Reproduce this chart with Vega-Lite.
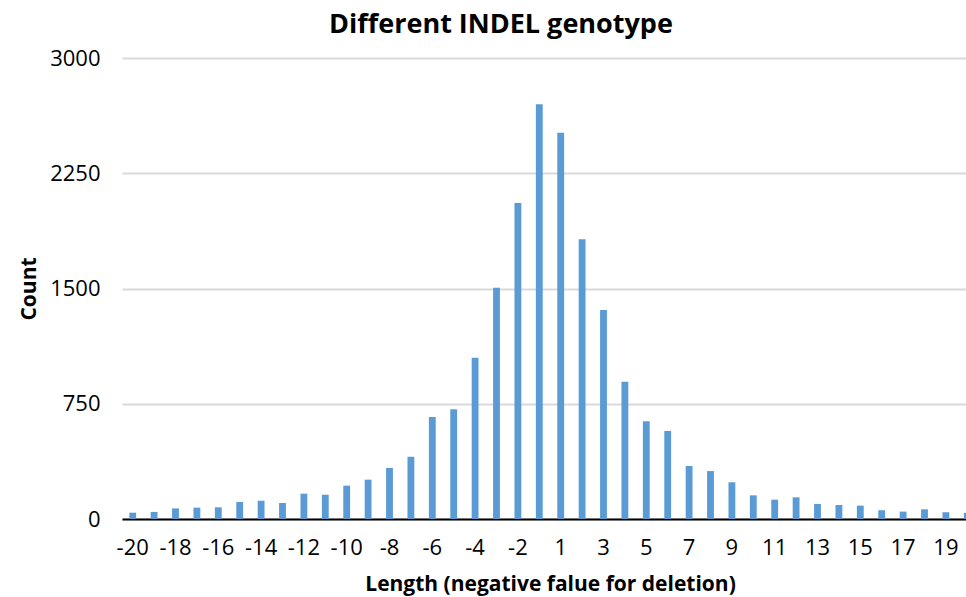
{
  "$schema": "https://vega.github.io/schema/vega-lite/v6.json",
  "autosize": "none",
  "width": 844,
  "height": 461,
  "padding": {"left": 122, "top": 58, "right": 0, "bottom": 78},
  "background": "#ffffff",
  "config": {
    "view": {"stroke": null},
    "font": "Open Sans"
  },
  "title": {
    "text": "Different INDEL genotype",
    "font": "Open Sans",
    "fontSize": 27,
    "fontWeight": "bold",
    "color": "#000000",
    "anchor": "middle",
    "frame": "group",
    "dx": -43,
    "offset": 8
  },
  "data": {
    "values": [
      {"length": -20, "count": 41},
      {"length": -19, "count": 46},
      {"length": -18, "count": 69},
      {"length": -17, "count": 74},
      {"length": -16, "count": 76},
      {"length": -15, "count": 111},
      {"length": -14, "count": 119},
      {"length": -13, "count": 104},
      {"length": -12, "count": 165},
      {"length": -11, "count": 158},
      {"length": -10, "count": 217},
      {"length": -9, "count": 256},
      {"length": -8, "count": 332},
      {"length": -7, "count": 405},
      {"length": -6, "count": 664},
      {"length": -5, "count": 714},
      {"length": -4, "count": 1050},
      {"length": -3, "count": 1505},
      {"length": -2, "count": 2056},
      {"length": -1, "count": 2699},
      {"length": 1, "count": 2514},
      {"length": 2, "count": 1820},
      {"length": 3, "count": 1360},
      {"length": 4, "count": 893},
      {"length": 5, "count": 636},
      {"length": 6, "count": 573},
      {"length": 7, "count": 345},
      {"length": 8, "count": 312},
      {"length": 9, "count": 239},
      {"length": 10, "count": 154},
      {"length": 11, "count": 126},
      {"length": 12, "count": 141},
      {"length": 13, "count": 98},
      {"length": 14, "count": 91},
      {"length": 15, "count": 87},
      {"length": 16, "count": 57},
      {"length": 17, "count": 48},
      {"length": 18, "count": 63},
      {"length": 19, "count": 44},
      {"length": 20, "count": 40}
    ]
  },
  "mark": {"type": "bar", "color": "#5B9BD5"},
  "encoding": {
    "x": {
      "field": "length",
      "type": "ordinal",
      "sort": "ascending",
      "scale": {"range": [0, 856], "paddingInner": 0.68, "paddingOuter": 0.34},
      "axis": {
        "values": [-20, -18, -16, -14, -12, -10, -8, -6, -4, -2, 1, 3, 5, 7, 9, 11, 13, 15, 17, 19],
        "labelAngle": 0,
        "labelFont": "Open Sans",
        "labelFontSize": 22,
        "labelColor": "#000000",
        "labelPadding": 18,
        "ticks": false,
        "domainColor": "#000000",
        "domainWidth": 2,
        "title": "Length (negative falue for deletion)",
        "titleFont": "Open Sans",
        "titleFontSize": 21,
        "titleFontWeight": "bold",
        "titleColor": "#000000",
        "titlePadding": 15,
        "labelOverlap": false
      }
    },
    "y": {
      "field": "count",
      "type": "quantitative",
      "scale": {"domain": [0, 3000], "nice": false},
      "axis": {
        "values": [0, 750, 1500, 2250, 3000],
        "format": "d",
        "domain": false,
        "ticks": false,
        "gridColor": "#D9D9D9",
        "gridWidth": 2,
        "labelFont": "Open Sans",
        "labelFontSize": 22,
        "labelColor": "#000000",
        "labelPadding": 22,
        "title": "Count",
        "titleFont": "Open Sans",
        "titleFontSize": 21,
        "titleFontWeight": "bold",
        "titleColor": "#000000",
        "titlePadding": 10
      }
    }
  }
}
